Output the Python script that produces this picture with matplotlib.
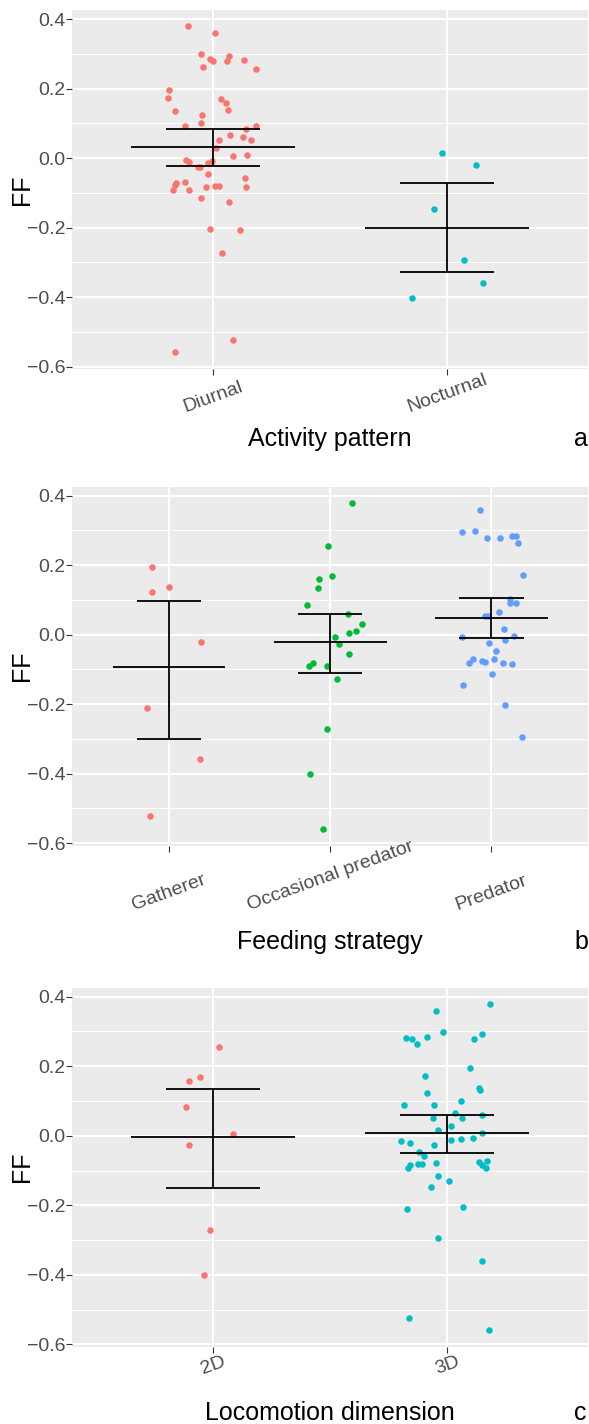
import matplotlib
matplotlib.use("Agg")
import matplotlib.pyplot as plt
import numpy as np

plt.rcParams['font.family'] = ['Liberation Sans', 'DejaVu Sans']

# ---- panel a: activity pattern ----
activity_groups = ["Diurnal", "Nocturnal"]
diurnal_ff = [0.380, 0.359, 0.300, 0.295, 0.285, 0.278, 0.279, 0.283, 0.263, 0.255,
              0.197, 0.173, 0.170, 0.158, 0.137, 0.134, 0.125, 0.102, 0.091, 0.091,
              0.084, 0.066, 0.060, 0.051, 0.053, 0.029, 0.008, 0.005, -0.005, -0.010,
              -0.009, -0.015, -0.025, -0.025, -0.047, -0.057, -0.072, -0.070, -0.078, -0.083,
              -0.081, -0.081, -0.084, -0.091, -0.091, -0.115, -0.127, -0.203, -0.208, -0.272,
              -0.524, -0.559]
diurnal_jit = [-0.108, 0.007, -0.050, 0.068, -0.014, -0.001, 0.060, 0.134, -0.041, 0.183,
               -0.188, -0.193, 0.036, 0.054, 0.064, -0.163, -0.045, -0.050, -0.119, 0.183,
               0.139, 0.071, 0.128, 0.026, 0.161, 0.014, 0.146, 0.084, -0.117, -0.104,
               -0.003, -0.023, -0.063, -0.055, -0.023, 0.136, -0.156, -0.118, -0.161, -0.031,
               0.009, 0.027, 0.142, -0.172, -0.102, -0.053, 0.068, -0.014, 0.115, 0.037,
               0.087, -0.162]
nocturnal_ff = [0.014, -0.021, -0.148, -0.294, -0.359, -0.402]
nocturnal_jit = [-0.024, 0.122, -0.059, 0.069, 0.152, -0.149]
activity_mean = [0.032, -0.201]
activity_lo = [-0.022, -0.327]
activity_hi = [0.083, -0.072]

# ---- panel b: feeding strategy ----
feeding_groups = ["Gatherer", "Occasional predator", "Predator"]
gatherer_ff = [0.196, 0.123, 0.136, -0.020, -0.210, -0.357, -0.522]
gatherer_jit = [-0.105, -0.105, 0.000, 0.198, -0.138, 0.193, -0.117]
occasional_ff = [0.379, 0.255, 0.169, 0.159, 0.135, 0.084, 0.060, 0.030, 0.010, 0.004,
                 -0.007, -0.026, -0.056, -0.081, -0.090, -0.091, -0.128, -0.271, -0.400, -0.558]
occasional_jit = [0.136, -0.014, 0.012, -0.072, -0.076, -0.143, 0.110, 0.196, 0.159, 0.116,
                  0.027, 0.058, 0.114, -0.107, -0.130, -0.021, 0.045, -0.019, -0.126, -0.047]
predator_ff = [0.359, 0.294, 0.299, 0.279, 0.278, 0.285, 0.284, 0.264, 0.173, 0.104,
               0.090, 0.090, 0.066, 0.054, 0.053, 0.016, -0.008, -0.015, -0.005, -0.025,
               -0.047, -0.071, -0.081, -0.076, -0.080, -0.070, -0.083, -0.084, -0.113, -0.145,
               -0.202, -0.294]
predator_jit = [-0.072, -0.180, -0.101, -0.029, 0.052, 0.128, 0.151, 0.165, 0.198, 0.114,
                0.118, 0.151, 0.048, -0.041, -0.023, 0.079, -0.180, 0.085, 0.141, -0.014,
                0.029, -0.116, -0.139, -0.060, -0.037, 0.014, 0.074, 0.126, 0.002, -0.174,
                0.085, 0.193]
feeding_mean = [-0.093, -0.022, 0.049]
feeding_lo = [-0.301, -0.110, -0.010]
feeding_hi = [0.097, 0.058, 0.106]

# ---- panel c: locomotion dimension ----
locomotion_groups = ["2D", "3D"]
loco2d_ff = [0.254, 0.168, 0.157, 0.083, 0.004, -0.028, -0.272, -0.402]
loco2d_jit = [0.024, -0.054, -0.104, -0.117, 0.085, -0.101, -0.013, -0.037]
loco3d_ff = [0.378, 0.358, 0.299, 0.293, 0.282, 0.278, 0.263, 0.284, 0.278, 0.196,
             0.171, 0.136, 0.133, 0.123, 0.088, 0.088, 0.101, 0.065, 0.051, 0.051,
             0.059, 0.028, 0.016, 0.008, -0.011, -0.010, -0.007, -0.016, -0.021, -0.026,
             -0.048, -0.057, -0.075, -0.072, -0.084, -0.092, -0.085, -0.093, -0.082, -0.082,
             -0.078, -0.116, -0.129, -0.147, -0.210, -0.205, -0.294, -0.359, -0.523, -0.560]
loco3d_jit = [0.180, -0.047, -0.017, 0.149, -0.176, -0.151, -0.129, -0.087, 0.115, 0.098,
              -0.095, 0.136, 0.141, -0.085, -0.186, -0.058, 0.058, 0.033, -0.061, 0.064,
              0.149, 0.017, -0.041, 0.148, 0.014, 0.057, 0.108, -0.196, -0.161, -0.057,
              -0.119, -0.101, 0.136, 0.169, 0.148, 0.163, -0.159, -0.169, -0.124, -0.107,
              -0.048, -0.041, 0.007, -0.071, -0.173, 0.065, -0.042, 0.149, -0.162, 0.178]
locomotion_mean = [-0.004, 0.009]
locomotion_lo = [-0.151, -0.049]
locomotion_hi = [0.134, 0.060]

hue2 = ["#F8766D", "#00BFC4"]
hue3 = ["#F8766D", "#00BA38", "#619CFF"]

W, H = 589, 1424
fig = plt.figure(figsize=(W / 100, H / 100), dpi=100)
YLIM = (-0.607, 0.426)
PANEL_H = 359.0
LEFT, RIGHT = 72.3, 588.0


def fx(px):
    return px / W


def fy(py):
    return 1 - py / H


def draw_panel(top, groups, values, jitters, means, lo, hi, colors,
               xlabel, letter, label_bottom, title_base):
    ax = fig.add_axes([fx(LEFT), fy(top + PANEL_H), fx(RIGHT) - fx(LEFT), PANEL_H / H])
    ax.set_facecolor("#EBEBEB")
    n = len(groups)
    ax.set_xlim(-0.6, n - 1 + 0.6)
    ax.set_ylim(*YLIM)
    for s in ax.spines.values():
        s.set_visible(False)

    major = np.arange(-0.6, 0.41, 0.2)
    minor = np.arange(-0.5, 0.31, 0.2)
    for v in minor:
        ax.axhline(v, color="white", lw=0.7, zorder=0)
    for v in major:
        ax.axhline(v, color="white", lw=1.4, zorder=0)
    for i in range(n):
        ax.axvline(i, color="white", lw=1.4, zorder=0)

    for i, (vals, jit) in enumerate(zip(values, jitters)):
        ax.scatter(np.array(jit) + i, vals, s=22, color=colors[i],
                   linewidths=0, zorder=2)

    xs = np.arange(n)
    lw = 1.3
    ax.hlines(means, xs - 0.35, xs + 0.35, color="black", lw=lw, zorder=3)
    ax.vlines(xs, lo, hi, color="black", lw=lw, zorder=3)
    ax.hlines(lo, xs - 0.2, xs + 0.2, color="black", lw=lw, zorder=3)
    ax.hlines(hi, xs - 0.2, xs + 0.2, color="black", lw=lw, zorder=3)

    ax.set_yticks(major)
    ax.set_yticklabels([f"{v:.1f}".replace("-", "\u2212") for v in major])
    ax.tick_params(axis="y", length=4, width=0.8, color="#333333", pad=1,
                   labelsize=14, labelcolor="#4D4D4D")

    bottom = top + PANEL_H
    pad_pt = (label_bottom - bottom) * 0.72 - 4
    ax.set_xticks(xs)
    ax.set_xticklabels(groups, rotation=20, ha="center", va="bottom")
    ax.tick_params(axis="x", length=4, width=0.8, color="#333333", pad=pad_pt,
                   labelsize=14, labelcolor="#4D4D4D")

    fig.text(fx(22), fy(top + PANEL_H / 2), "FF", rotation=90, ha="center",
             va="center", fontsize=18)
    fig.text(fx((LEFT + RIGHT) / 2), fy(title_base), xlabel, ha="center",
             va="baseline", fontsize=18)
    fig.text(fx(574), fy(title_base), letter, ha="left", va="baseline", fontsize=18)
    return ax


draw_panel(10.0, activity_groups, [diurnal_ff, nocturnal_ff],
           [diurnal_jit, nocturnal_jit], activity_mean, activity_lo, activity_hi,
           hue2, "Activity pattern", "a", 416, 446)

draw_panel(486.6, feeding_groups, [gatherer_ff, occasional_ff, predator_ff],
           [gatherer_jit, occasional_jit, predator_jit], feeding_mean, feeding_lo,
           feeding_hi, hue3, "Feeding strategy", "b", 914, 949)

draw_panel(987.7, locomotion_groups, [loco2d_ff, loco3d_ff],
           [loco2d_jit, loco3d_jit], locomotion_mean, locomotion_lo, locomotion_hi,
           hue2, "Locomotion dimension", "c", 1378, 1420)

fig.savefig("out.png", dpi=100)
